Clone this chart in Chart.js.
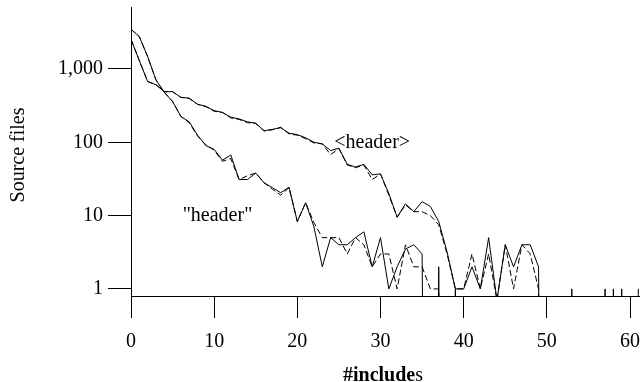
<!DOCTYPE html>
<html>
<head>
<meta charset="utf-8">
<script src="https://cdn.jsdelivr.net/npm/chart.js@4/dist/chart.umd.min.js"></script>
<style>
html,body{margin:0;padding:0;background:#fff;}
#wrap{width:640px;height:382px;position:relative;}
</style>
</head>
<body>
<div id="wrap"><canvas id="c" width="640" height="382"></canvas></div>
<script>
// ---- data ----
const includes = [0,1,2,3,4,5,6,7,8,9,10,11,12,13,14,15,16,17,18,19,20,
  21,22,23,24,25,26,27,28,29,30,31,32,33,34,35,36,37,38,39,40,
  41,42,43,44,45,46,47,48,49,50,51,52,53,54,55,56,57,58,59,60,61];

// <header> includes, two measurements (solid / dashed)
const angleSolid = [2540,1300,675,610,490,490,410,400,330,310,270,
  255,220,208,190,182,144,150,158,133,127,
  115,100,95,77,83,50,46,50,36,37,
  20,9.5,14.5,11.3,15.5,13.3,8.3,3.2,1,1,
  2,1,5,0.7,4,2,4,4,2,0,
  0,0,1,0,0,0,1,0,1,0,1];
const angleDashed = [2540,1300,675,610,490,490,410,395,330,305,265,
  255,215,205,185,180,142,148,160,130,125,
  112,98,95,68,82,49,45,49,31,37,
  19,9.5,14,11.3,11.3,10,7.5,3,1,1,
  3,1,3,0.7,4,1,4,3,1,0,
  0,0,0,0,0,0,0,0,0,0,0];

// "header" includes, two measurements (solid / dashed)
const quoteSolid = [3480,2760,1475,710,480,360,225,190,125,90,80,
  57,67,31,31,38,28,24,20.5,24.4,8.3,
  15,7,2,5,4,4,5,6,2,5,
  1,2,3.5,4,3,0,2,0,1,0,
  0,0,0,0,0,0,0,0,0,0,
  0,0,0,0,0,0,0,1,0,0,0];
const quoteDashed = [3480,2760,1475,710,480,360,225,185,122,92,78,
  55,60,31,35,38,28,23,19,24,8.3,
  15,8,5,5,5,3,5,4,2,3,
  3,1,4,2,2,1,1,0,0,0,
  0,0,0,0,0,0,0,0,0,0,
  0,0,0,0,0,0,0,0,0,0,0];

const xTickValues = [0,10,20,30,40,50,60];
const yTickValues = [1,10,100,1000];
const yTickLabels = ['1','10','100','1,000'];

const xTitleBold = '#include';
const xTitleRest = 's';
const yTitle = 'Source files';
const angleLabel = '<header>';
const quoteLabel = '"header"';
const angleLabelAt = [29.0, 100];
const quoteLabelAt = [10.4, 10];

// ---- chart ----
const FONT = "'Liberation Serif','Times New Roman',Times,serif";
const FS = 20;
// zero counts cannot be shown on a log axis: they fall off the bottom
const toPoints = arr => includes.map((x, i) => ({x: x, y: arr[i] === 0 ? 1e-12 : arr[i]}));

const lineDs = (arr, dash) => ({
  data: toPoints(arr),
  borderColor: '#000',
  borderWidth: 1,
  borderDash: dash,
  pointRadius: 0,
  tension: 0,
  clip: 0,
  fill: false
});

const textPlugin = {
  id: 'texts',
  afterDraw(chart) {
    const {ctx, scales: {x, y}} = chart;
    ctx.save();
    ctx.fillStyle = '#000';
    ctx.font = FS + 'px ' + FONT;
    ctx.textAlign = 'center';
    ctx.textBaseline = 'middle';
    ctx.fillText(angleLabel, x.getPixelForValue(angleLabelAt[0]), y.getPixelForValue(angleLabelAt[1]));
    ctx.fillText(quoteLabel, x.getPixelForValue(quoteLabelAt[0]), y.getPixelForValue(quoteLabelAt[1]));

    // x title: bold "#include" + regular "s"
    const boldFont = 'bold ' + FS + 'px ' + FONT;
    const regFont = FS + 'px ' + FONT;
    ctx.font = boldFont;
    const wb = ctx.measureText(xTitleBold).width;
    ctx.font = regFont;
    const wr = ctx.measureText(xTitleRest).width;
    const cx = 383;
    let sx = cx - (wb + wr) / 2;
    ctx.textAlign = 'left';
    ctx.textBaseline = 'alphabetic';
    ctx.font = boldFont;
    ctx.fillText(xTitleBold, sx, 381);
    ctx.font = regFont;
    ctx.fillText(xTitleRest, sx + wb, 381);

    // y title
    ctx.translate(19, 155);
    ctx.rotate(-Math.PI / 2);
    ctx.textAlign = 'center';
    ctx.textBaseline = 'middle';
    ctx.font = regFont;
    ctx.fillText(yTitle, 0, 0);
    ctx.restore();
  }
};

new Chart(document.getElementById('c'), {
  type: 'line',
  data: {
    datasets: [
      lineDs(angleSolid, []),
      lineDs(angleDashed, [6, 3]),
      lineDs(quoteSolid, []),
      lineDs(quoteDashed, [6, 3])
    ]
  },
  options: {
    responsive: false,
    animation: false,
    devicePixelRatio: 1,
    layout: {padding: {top: 7, left: 0, right: 0, bottom: 0}},
    plugins: {legend: {display: false}, tooltip: {enabled: false}, title: {display: false}},
    scales: {
      x: {
        type: 'linear',
        min: 0,
        max: 61.2,
        afterBuildTicks: s => { s.ticks = xTickValues.map(v => ({value: v})); },
        afterFit: s => { s.height = 86; s.paddingLeft = 0; s.paddingRight = 0; },
        grid: {drawOnChartArea: false, drawTicks: true, tickLength: 22, color: '#000', lineWidth: 1},
        border: {display: true, color: '#000', width: 1},
        ticks: {color: '#000', font: {family: FONT, size: FS}, padding: 12, maxRotation: 0, autoSkip: false}
      },
      y: {
        type: 'logarithmic',
        min: 0.8,
        max: 7000,
        afterBuildTicks: s => { s.ticks = yTickValues.map(v => ({value: v})); },
        afterFit: s => { s.width = 131; s.paddingTop = 0; s.paddingBottom = 0; },
        grid: {drawOnChartArea: false, drawTicks: true, tickLength: 23, color: '#000', lineWidth: 1},
        border: {display: true, color: '#000', width: 1},
        ticks: {
          color: '#000', font: {family: FONT, size: FS}, padding: 5, autoSkip: false,
          callback: (v) => { const k = yTickValues.indexOf(v); return k >= 0 ? yTickLabels[k] : ''; }
        }
      }
    }
  },
  plugins: [textPlugin]
});
</script>
</body>
</html>
